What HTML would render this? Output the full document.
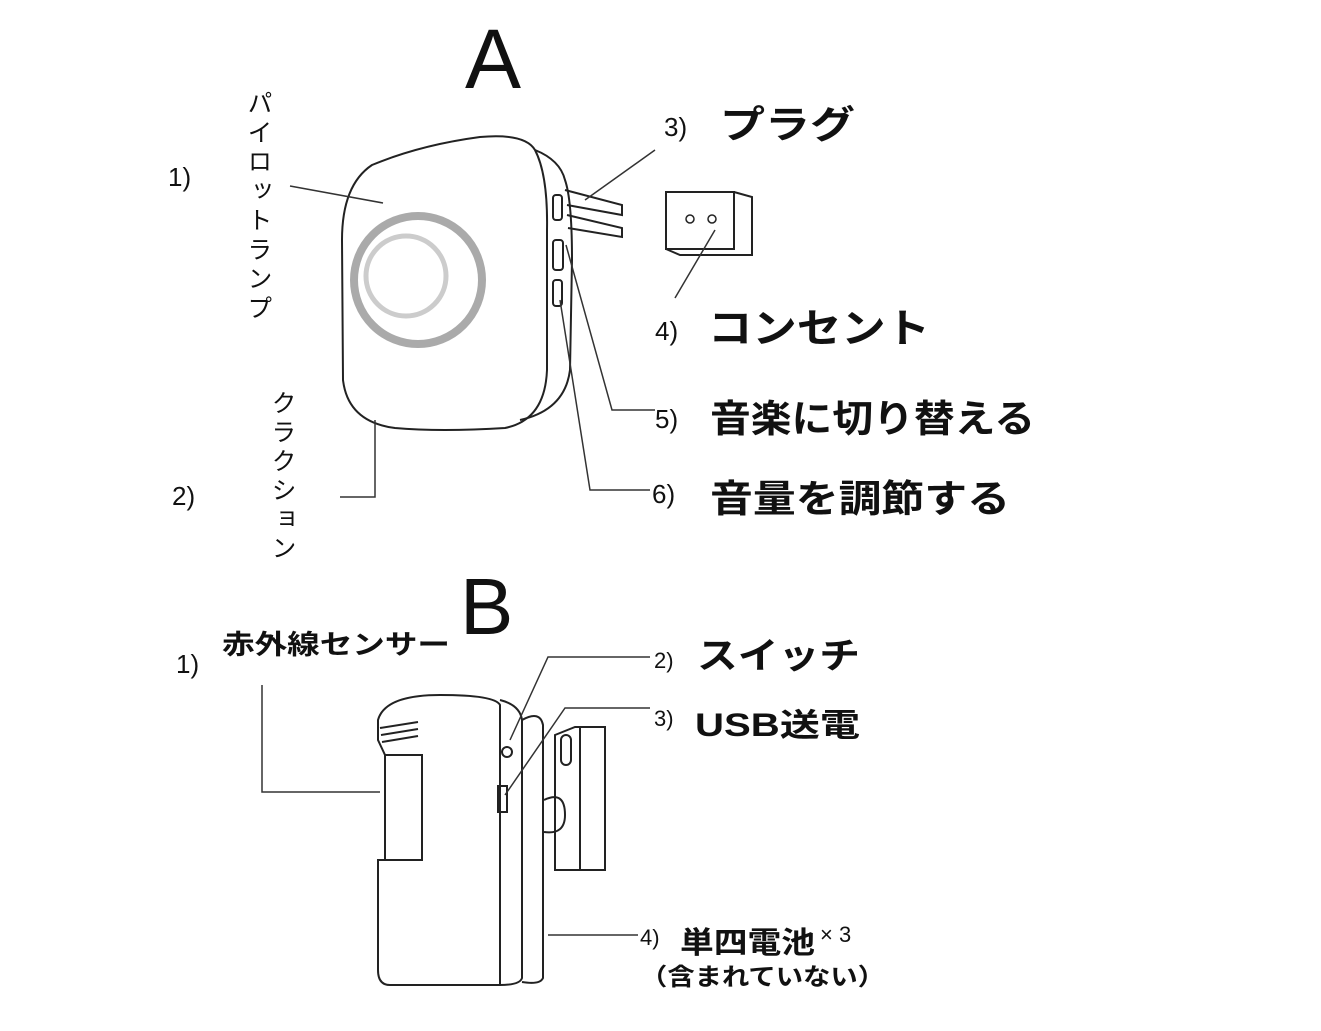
<!DOCTYPE html>
<html><head><meta charset="utf-8"><style>
body{margin:0;background:#fff;width:1321px;height:1031px;overflow:hidden}
svg{position:absolute;left:0;top:0}
.t{font-family:"Liberation Sans","Noto Sans CJK JP",sans-serif;fill:#111}
.j{font-family:"Liberation Sans","Noto Sans CJK JP",sans-serif;font-weight:bold;fill:#111}
</style></head><body>
<svg width="1321" height="1031" viewBox="0 0 1321 1031">
<g fill="none" stroke="#222" stroke-width="2">
<path d="M372,165 Q420,145 480,137 Q525,133 535,150 Q548,175 547,230 L547,370 Q545,420 505,428 Q440,432 395,428 Q348,422 343,380 L342,240 Q342,185 372,165 Z"/>
<path d="M535,150 Q560,160 565,180 Q572,200 572,260 L570,370 Q565,410 520,420"/>
<rect x="553" y="195" width="9" height="25" rx="3"/>
<rect x="553" y="240" width="10" height="30" rx="3"/>
<rect x="553" y="280" width="9" height="26" rx="3"/>
<path d="M565,190 L622,205 L622,215 L567,205"/>
<path d="M567,215 L622,228 L622,237 L568,228"/>
<rect x="666" y="192" width="68" height="57"/>
<path d="M734,192 L752,197 L752,255 L680,255 L666,249"/>
<circle cx="690" cy="219" r="4" stroke-width="1.5"/><circle cx="712" cy="219" r="4" stroke-width="1.5"/>
</g>
<circle cx="418" cy="280" r="64" fill="none" stroke="#aaa" stroke-width="8"/>
<circle cx="406" cy="276" r="40" fill="none" stroke="#ccc" stroke-width="5"/>
<g fill="none" stroke="#333" stroke-width="1.5">
<path d="M290,186 L383,203"/>
<path d="M375,420 L375,497 L340,497"/>
<path d="M655,150 L585,200"/>
<path d="M675,298 L715,230"/>
<path d="M566,245 L612,410 L655,410"/>
<path d="M560,300 L590,490 L650,490"/>
</g>
<text x="465" y="88" class="t" font-size="84">A</text>
<text x="168" y="186" class="t" font-size="26">1)</text>
<text x="172" y="505" class="t" font-size="26">2)</text>
<text x="664" y="136" class="t" font-size="26">3)</text>
<text x="720" y="138" class="j" font-size="38" textLength="135" lengthAdjust="spacingAndGlyphs">プラグ</text>
<text x="655" y="340" class="t" font-size="26">4)</text>
<text x="708" y="342" class="j" font-size="40" textLength="222" lengthAdjust="spacingAndGlyphs">コンセント</text>
<text x="655" y="428" class="t" font-size="26">5)</text>
<text x="710" y="432" class="j" font-size="38" textLength="325" lengthAdjust="spacingAndGlyphs">音楽に切り替える</text>
<text x="652" y="503" class="t" font-size="26">6)</text>
<text x="710" y="512" class="j" font-size="38" textLength="300" lengthAdjust="spacingAndGlyphs">音量を調節する</text>
<text x="258" y="90" class="t" font-size="25" writing-mode="tb" textLength="230" lengthAdjust="spacing">パイロットランプ</text>
<text x="282" y="390" class="t" font-size="25" writing-mode="tb" textLength="170" lengthAdjust="spacing">クラクション</text>

<g fill="none" stroke="#222" stroke-width="2">
<path d="M378,720 Q385,695 440,695 Q495,695 500,705 L500,985 L390,985 Q378,985 378,970 L378,860 L385,860 L385,755 L378,740 Z"/>
<path d="M385,755 L422,755 L422,860 L385,860"/>
<path d="M380,728 L418,722 M381,735 L418,729 M382,742 L418,736"/>
<path d="M500,700 Q520,705 522,720 L522,978 Q520,985 500,985"/>
<path d="M522,720 Q540,710 543,725 L543,978 Q540,985 522,982"/>
<rect x="498" y="786" width="9" height="26"/>
<circle cx="507" cy="752" r="5"/>
<path d="M555,735 L555,870 L605,870 L605,727 L575,727 Z M580,728 L580,870"/>
<rect x="561" y="735" width="10" height="30" rx="5"/>
<path d="M544,800 Q565,790 565,815 Q565,835 544,832"/>
</g>
<g fill="none" stroke="#333" stroke-width="1.5">
<path d="M262,685 L262,792 L380,792"/>
<path d="M650,657 L548,657 L510,740"/>
<path d="M650,708 L565,708 L505,795"/>
<path d="M548,935 L638,935"/>
</g>
<text x="460" y="634" class="t" font-size="80">B</text>
<text x="176" y="673" class="t" font-size="26">1)</text>
<text x="222" y="654" class="j" font-size="27" textLength="228" lengthAdjust="spacingAndGlyphs">赤外線センサー</text>
<text x="654" y="668" class="t" font-size="22">2)</text>
<text x="697" y="668" class="j" font-size="36" textLength="163" lengthAdjust="spacingAndGlyphs">スイッチ</text>
<text x="654" y="726" class="t" font-size="22">3)</text>
<text x="695" y="736" class="j" font-size="32" textLength="165" lengthAdjust="spacingAndGlyphs">USB送電</text>
<text x="640" y="945" class="t" font-size="22">4)</text>
<text x="680" y="953" class="j" font-size="30" textLength="135" lengthAdjust="spacingAndGlyphs">単四電池</text>
<text x="820" y="942" class="t" font-size="22">× 3</text>
<text x="640" y="985" class="j" font-size="24" textLength="245" lengthAdjust="spacingAndGlyphs">（含まれていない）</text>
</svg>
</body></html>
